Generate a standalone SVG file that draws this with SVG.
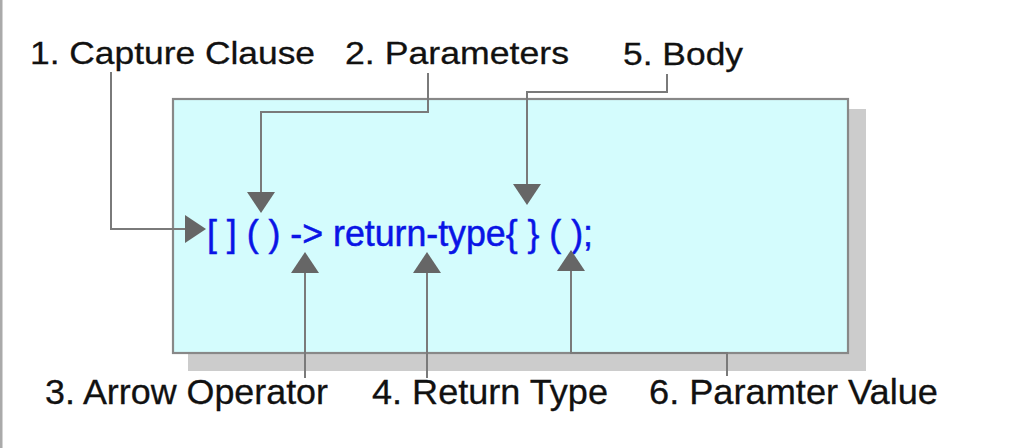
<svg xmlns="http://www.w3.org/2000/svg" width="1034" height="448" viewBox="0 0 1034 448">
  <style>
    .lbl { font-family: "Liberation Sans", Arial, sans-serif; fill: #111; stroke: #111; stroke-width: 0.3; }
    .top { font-size: 32px; }
    .bot { font-size: 35px; }
    .code { font-family: "Liberation Sans", Arial, sans-serif; font-size: 36px; fill: #0a14e6; stroke: #0a14e6; stroke-width: 0.5; }
    .conn { fill: none; stroke: #7a7a7a; stroke-width: 2; }
  </style>
  <defs>
    <marker id="arr" markerUnits="userSpaceOnUse" markerWidth="22" markerHeight="30" refX="0" refY="14" orient="auto" overflow="visible">
      <path d="M0,0 L21,14 L0,28 Z" fill="#666"/>
    </marker>
  </defs>
  <rect x="0" y="0" width="1034" height="448" fill="#fff"/>
  <rect x="0" y="0" width="2.5" height="448" fill="#aaa"/>

  <g id="box">
    <rect x="188" y="109" width="678" height="262" fill="#cccccc"/>
    <rect x="173" y="99" width="675" height="254" fill="#d4fcfd" stroke="#888" stroke-width="2.2"/>
  </g>

  <g id="code">
    <text class="code" x="207" y="246" textLength="386" lengthAdjust="spacingAndGlyphs">[ ] ( ) -&gt; return-type{ } ( );</text>
  </g>

  <g id="label1"><text class="lbl top" x="30" y="64" textLength="285" lengthAdjust="spacingAndGlyphs">1. Capture Clause</text></g>
  <g id="label2"><text class="lbl top" x="345" y="64" textLength="224" lengthAdjust="spacingAndGlyphs">2. Parameters</text></g>
  <g id="label5"><text class="lbl top" x="623" y="65" textLength="120" lengthAdjust="spacingAndGlyphs">5. Body</text></g>
  <g id="label3"><text class="lbl bot" x="45" y="404" textLength="283" lengthAdjust="spacingAndGlyphs">3. Arrow Operator</text></g>
  <g id="label4"><text class="lbl bot" x="372" y="404" textLength="236" lengthAdjust="spacingAndGlyphs">4. Return Type</text></g>
  <g id="label6"><text class="lbl bot" x="649" y="404" textLength="289" lengthAdjust="spacingAndGlyphs">6. Paramter Value</text></g>

  <g id="connectors">
    <path class="conn" d="M111,72 V229 H185" marker-end="url(#arr)"/>
    <path class="conn" d="M428,73 V112 H261 V192" marker-end="url(#arr)"/>
    <path class="conn" d="M667,74 V92 H527 V184" marker-end="url(#arr)"/>
    <path class="conn" d="M305,378 V273" marker-end="url(#arr)"/>
    <path class="conn" d="M427,378 V273" marker-end="url(#arr)"/>
    <path class="conn" d="M727,376 V353 H571 V271" marker-end="url(#arr)"/>
  </g>
</svg>
